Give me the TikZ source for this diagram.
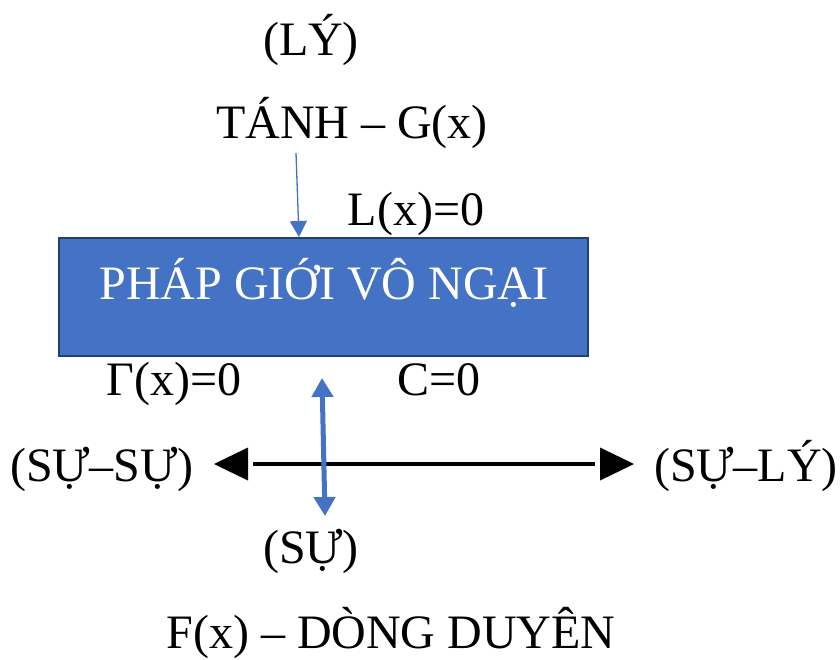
\documentclass[tikz,border=0pt]{standalone}
\usepackage{fontspec}
\setmainfont{Liberation Serif}
\usetikzlibrary{arrows.meta}
\definecolor{boxfill}{HTML}{4472C4}
\definecolor{boxline}{HTML}{22406E}
\definecolor{arrowblue}{HTML}{4472C4}
\tikzset{
  lbl/.style={font=\fontsize{48}{56}\selectfont, inner sep=0pt, anchor=base},
  mainbox/.style={draw=boxline, line width=2.5pt, fill=boxfill, inner sep=0pt,
    minimum width=529pt, minimum height=118pt},
  thinarrow/.style={draw=arrowblue, line width=1.3pt, -{Triangle[length=16pt,width=17pt]}},
  thickarrow/.style={draw=arrowblue, line width=5pt,
    {Triangle[length=19pt,width=21pt]}-{Triangle[length=19pt,width=21pt]}},
  axisline/.style={draw=black, line width=4pt},
  tri/.style={fill=black}
}
\begin{document}
\begin{tikzpicture}[x=1pt,y=-1pt]
\useasboundingbox (0,0) rectangle (840,659);
% box
\node[mainbox] (box) at (323.5,297) {};
\node[lbl, text=white] (boxlabel) at (324,299) {PHÁP GIỚI VÔ NGẠI};
% labels
\node[lbl] (ly) at (311,55) {(LÝ)};
\node[lbl] (tanh) at (352,138) {TÁNH – G(x)};
\node[lbl] (lx) at (416,225) {L(x)=0};
\node[lbl] (gx) at (174,395) {Γ(x)=0};
\node[lbl] (c0) at (439,395) {C=0};
\node[lbl] (susu) at (102,481) {(SỰ–SỰ)};
\node[lbl] (suly) at (746,481) {(SỰ–LÝ)};
\node[lbl] (su) at (311,563) {(SỰ)};
\node[lbl] (fx) at (391,648) {F(x) – DÒNG DUYÊN};
% thin arrow into the box
\coordinate (tA) at (296,153);
\coordinate (tB) at (299,237);
\draw[thinarrow] (tA) -- (tB);
% horizontal axis with separate triangles
\coordinate (lL) at (253,464);
\coordinate (lR) at (595,464);
\draw[axisline] (lL) -- (lR);
\fill[tri] (214,464) -- (248,447.5) -- (248,480.5) -- cycle;
\fill[tri] (634,464) -- (600,447.5) -- (600,480.5) -- cycle;
% thick double arrow
\coordinate (dA) at (322,378);
\coordinate (dB) at (325,516);
\draw[thickarrow] (dA) -- (dB);
\end{tikzpicture}
\end{document}
